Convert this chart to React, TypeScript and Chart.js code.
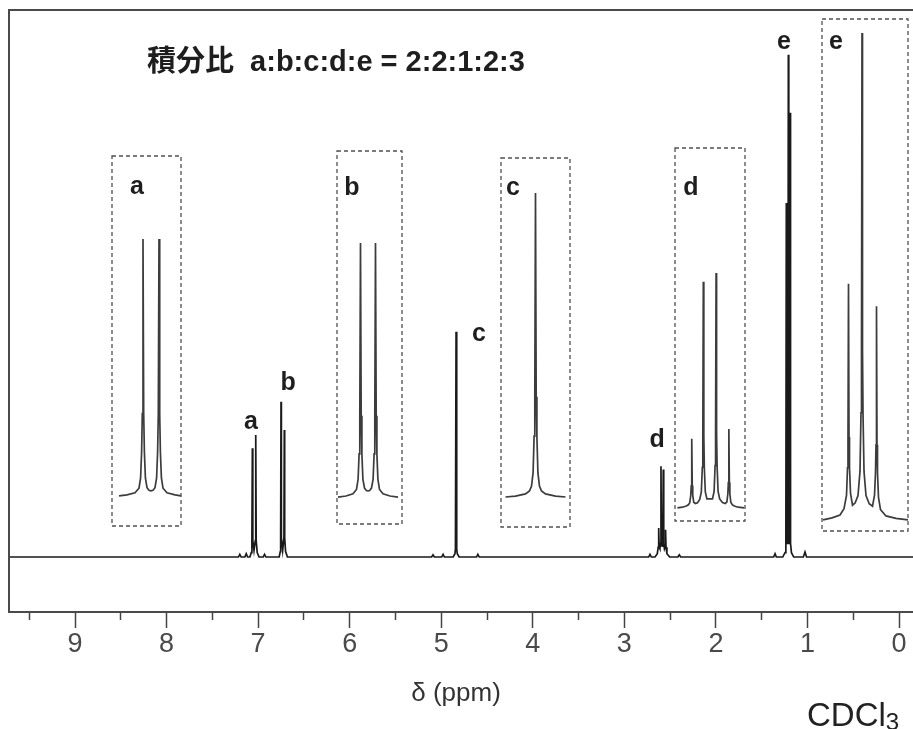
import React, { useEffect, useRef } from "react";
import { Chart, registerables } from "chart.js";

Chart.register(...registerables);

// ---------- axis ----------
const majorTicks = [0, 1, 2, 3, 4, 5, 6, 7, 8, 9];
const minorTicks = [0.5, 1.5, 2.5, 3.5, 4.5, 5.5, 6.5, 7.5, 8.5, 9.5];
const xLeftPpm = 9.721;
const xRightPpm = -0.666;
const yBottom = -10.05;
const yTop = 100;

// ---------- main spectrum (ppm, relative intensity) ----------
const specPpm = [
  9.8,
  7.215, 7.2, 7.185, 7.145, 7.13, 7.115,
  7.09, 7.075, 7.068, 7.063, 7.058, 7.045, 7.031, 7.026, 7.021, 7.01, 6.99,
  6.945, 6.93, 6.915,
  6.77, 6.758, 6.754, 6.75, 6.746, 6.732, 6.718, 6.714, 6.71, 6.7, 6.68,
  5.105, 5.09, 5.075, 4.995, 4.98, 4.965,
  4.87, 4.85, 4.845, 4.838, 4.831, 4.825, 4.805,
  4.615, 4.6, 4.585,
  2.735, 2.72, 2.705,
  2.665, 2.64, 2.63, 2.625, 2.62, 2.612, 2.605, 2.6, 2.595, 2.5875, 2.58, 2.575, 2.57, 2.562, 2.555, 2.55, 2.545, 2.535, 2.505,
  2.415, 2.4, 2.385,
  1.37, 1.354, 1.34,
  1.27, 1.245, 1.236, 1.231, 1.226, 1.22, 1.214, 1.209, 1.204, 1.198, 1.195, 1.19, 1.185, 1.175, 1.15,
  1.045, 1.027, 1.01,
  -0.8,
];
const specInt = [
  0,
  0, 0.5, 0, 0, 0.6, 0,
  0, 0.8, 3, 19.9, 3, 1.2, 3, 22.3, 3, 0.8, 0,
  0, 0.5, 0,
  0, 1, 3.5, 28.4, 3.5, 1.2, 3.5, 23.2, 3.5, 1, 0,
  0, 0.4, 0, 0, 0.5, 0,
  0, 0.6, 1.5, 41.2, 1.5, 0.6, 0,
  0, 0.5, 0,
  0, 0.5, 0,
  0, 0.6, 1.8, 5.3, 1.8, 1.5, 2.5, 16.6, 2.5, 2, 2.5, 16.0, 2.5, 1.5, 1.8, 5.0, 1.8, 0.6, 0,
  0, 0.4, 0,
  0, 0.6, 0,
  0, 0.8, 2.5, 64.7, 3, 2.5, 4, 91.8, 4, 2.5, 3, 81.2, 2.5, 0.8, 0,
  0, 0.9, 0,
  0,
];

// ---------- peak labels on the main spectrum ----------
const peakLabels = ["a", "b", "c", "d", "e"];
const peakLabelPpm = [7.077, 6.672, 4.587, 2.643, 1.256];
const peakLabelInt = [24.7, 31.8, 40.8, 21.4, 94.2];

// ---------- expansions (Hz offset from multiplet centre, % of tallest line) ----------
const insetAHz = [16, 12, 8, 6, 5.2, 4.7, 4.35, 4, 3.65, 3.3, 2.8, 2, 1, 0, -1, -2, -2.8, -3.3, -3.65, -4, -4.35, -4.7, -5.2, -6, -8, -12, -15];
const insetAInt = [0, 0.4, 1.2, 3, 7, 17, 32, 100, 32, 17, 7, 3.2, 2.2, 2, 2.2, 3.2, 7, 17, 32, 100, 32, 17, 7, 3, 1.2, 0.4, 0];

const insetBHz = [15, 11, 7.5, 5.75, 4.95, 4.45, 4.1, 3.75, 3.4, 3.05, 2.55, 1.75, 0.8, 0, -0.8, -1.75, -2.55, -3.05, -3.4, -3.75, -4.1, -4.45, -4.95, -5.75, -7.5, -11, -15];
const insetBInt = [0, 0.4, 1.3, 3, 7, 17, 32, 100, 32, 17, 7, 3.5, 2.6, 2.4, 2.6, 3.5, 7, 17, 32, 100, 32, 17, 7, 3, 1.3, 0.4, 0];

const insetCHz = [15, 10, 5, 3, 2, 1.2, 0.7, 0.35, 0, -0.35, -0.7, -1.2, -2, -3, -5, -10, -15];
const insetCInt = [0, 0.3, 1, 2, 3.5, 8, 20, 33, 100, 33, 20, 8, 3.5, 2, 1, 0.3, 0];

const insetDHz = [16.5, 14, 12, 11, 10.3, 9.8, 9.55, 9.3, 9.05, 8.8, 8.3, 7.5, 6.4, 5.3, 4.5, 4.0, 3.75, 3.5, 3.25, 3.0, 2.5, 1.7, 0.3, -1.1, -1.9, -2.4, -2.65, -2.9, -3.15, -3.4, -3.9, -4.7, -6.1, -7.5, -8.3, -8.8, -9.05, -9.3, -9.55, -9.8, -10.3, -11, -12, -14, -17];
const insetDInt = [0, 0.3, 0.8, 1.3, 2.2, 5.3, 9.4, 29.4, 9.4, 5.3, 2.4, 1.9, 2.2, 3.6, 6.8, 17.3, 31, 96.2, 31, 17.3, 6.8, 3.8, 3.8, 3.8, 7, 18, 32, 100, 32, 18, 7, 3.8, 2.3, 1.9, 2.5, 6, 10.8, 33.6, 10.8, 6, 2.4, 1.4, 0.8, 0.3, 0];

const insetEHz = [19.5, 15, 11, 9, 7.75, 7.25, 7.0, 6.75, 6.5, 6.25, 5.75, 4.75, 3.4, 2, 1, 0.5, 0.25, 0, -0.25, -0.5, -1, -2, -3.6, -5.25, -6.25, -6.75, -7.0, -7.25, -7.5, -7.75, -8.25, -9.25, -12, -17, -23];
const insetEInt = [0, 0.4, 1, 2.3, 5, 10.7, 17, 48.5, 17, 10.7, 5.5, 3, 3.5, 5, 10, 22, 35, 100, 35, 22, 10, 5, 3.3, 2.8, 5, 9.7, 15.4, 43.9, 15.4, 9.7, 4.6, 2.1, 0.8, 0.3, 0];

// ---------- texts ----------
const titleText = "積分比  a:b:c:d:e = 2:2:1:2:3";
const axisTitleText = "δ (ppm)";
const solventMain = "CDCl";
const solventSub = "3";

const LATIN = "'Liberation Sans', Arial, 'Noto Sans CJK JP', sans-serif";

function MainChart() {
  const ref = useRef<HTMLCanvasElement>(null);
  useEffect(() => {
    const canvas = ref.current!;
    const framePlugin = {
      id: "frame",
      afterDraw(chart: any) {
        const { ctx, chartArea } = chart;
        ctx.save();
        ctx.strokeStyle = "#4a4a4a";
        ctx.lineWidth = 2;
        ctx.beginPath();
        ctx.moveTo(chartArea.right + 5, chartArea.top);
        ctx.lineTo(chartArea.left, chartArea.top);
        ctx.lineTo(chartArea.left, chartArea.bottom);
        ctx.lineTo(chartArea.right + 5, chartArea.bottom);
        ctx.stroke();
        ctx.restore();
      },
    };
    const labelPlugin = {
      id: "peakLabels",
      afterDatasetsDraw(chart: any) {
        const { ctx } = chart;
        const xs = chart.scales.x;
        const ys = chart.scales.y;
        ctx.save();
        ctx.font = `bold 25px ${LATIN}`;
        ctx.fillStyle = "#1e1e1e";
        ctx.textAlign = "center";
        ctx.textBaseline = "middle";
        peakLabels.forEach((t, i) => {
          ctx.fillText(t, xs.getPixelForValue(peakLabelPpm[i]), ys.getPixelForValue(peakLabelInt[i]));
        });
        ctx.restore();
      },
    };
    const chart = new Chart(canvas, {
      type: "line",
      data: {
        datasets: [
          {
            data: specPpm.map((p, i) => ({ x: p, y: specInt[i] })),
            borderColor: "#1a1a1a",
            borderWidth: 1.7,
            pointRadius: 0,
            tension: 0,
            fill: false,
          },
        ],
      },
      options: {
        animation: false,
        responsive: false,
        devicePixelRatio: 1,
        events: [],
        layout: { padding: { left: 9, top: 10, right: 0, bottom: 0 } },
        plugins: { legend: { display: false }, tooltip: { enabled: false } },
        scales: {
          xMinor: {
            type: "linear",
            position: "bottom",
            reverse: true,
            min: xRightPpm,
            max: xLeftPpm,
            weight: 0,
            afterBuildTicks: (s: any) => {
              s.ticks = minorTicks.map((v) => ({ value: v }));
            },
            afterFit: (s: any) => {
              s.height = 0;
            },
            ticks: { display: false },
            grid: { drawOnChartArea: false, drawTicks: true, tickLength: 8, tickColor: "#444", tickWidth: 1.5 },
            border: { display: false },
          },
          x: {
            type: "linear",
            position: "bottom",
            reverse: true,
            min: xRightPpm,
            max: xLeftPpm,
            weight: 1,
            afterBuildTicks: (s: any) => {
              s.ticks = majorTicks.map((v) => ({ value: v }));
            },
            afterFit: (s: any) => {
              s.height = 117;
            },
            ticks: {
              padding: 0,
              color: "#4a4a4a",
              maxRotation: 0,
              autoSkip: false,
              font: { family: "'Liberation Sans Narrow', 'Liberation Sans', Arial, sans-serif", size: 27 },
              callback: (v: any) => String(v),
            },
            grid: { drawOnChartArea: false, drawTicks: true, tickLength: 16, tickColor: "#444", tickWidth: 1.5 },
            border: { display: false },
          },
          y: { display: false, min: yBottom, max: yTop },
        },
      } as any,
      plugins: [framePlugin, labelPlugin],
    });
    return () => chart.destroy();
  }, []);
  return <canvas ref={ref} width={960} height={729} style={{ position: "absolute", left: 0, top: 0 }} />;
}

type InsetProps = {
  left: number;
  top: number;
  width: number;
  height: number;
  hz: number[];
  ints: number[];
  xMin: number;
  xMax: number;
  yMin: number;
  yMax: number;
  label: string;
  labelX: number;
  labelY: number;
};

function Inset(p: InsetProps) {
  const ref = useRef<HTMLCanvasElement>(null);
  useEffect(() => {
    const canvas = ref.current!;
    const boxPlugin = {
      id: "box",
      afterDraw(chart: any) {
        const { ctx } = chart;
        ctx.save();
        ctx.strokeStyle = "#505050";
        ctx.lineWidth = 1.3;
        ctx.setLineDash([4, 3]);
        ctx.strokeRect(1, 1, p.width - 2, p.height - 2);
        ctx.setLineDash([]);
        ctx.font = `bold 25px ${LATIN}`;
        ctx.fillStyle = "#1e1e1e";
        ctx.textAlign = "center";
        ctx.textBaseline = "middle";
        ctx.fillText(p.label, p.labelX, p.labelY);
        ctx.restore();
      },
    };
    const chart = new Chart(canvas, {
      type: "line",
      data: {
        datasets: [
          {
            data: p.hz.map((h, i) => ({ x: h, y: p.ints[i] })),
            borderColor: "#3c3c3c",
            borderWidth: 1.7,
            pointRadius: 0,
            tension: 0,
            fill: false,
          },
        ],
      },
      options: {
        animation: false,
        responsive: false,
        devicePixelRatio: 1,
        events: [],
        layout: { padding: 0 },
        plugins: { legend: { display: false }, tooltip: { enabled: false } },
        scales: {
          x: { type: "linear", reverse: true, min: p.xMin, max: p.xMax, display: false },
          y: { min: p.yMin, max: p.yMax, display: false },
        },
      } as any,
      plugins: [boxPlugin],
    });
    return () => chart.destroy();
  }, []);
  return (
    <canvas
      ref={ref}
      width={p.width}
      height={p.height}
      style={{ position: "absolute", left: p.left, top: p.top }}
    />
  );
}

export default function App() {
  return (
    <div
      style={{
        position: "absolute",
        left: 0,
        top: 0,
        width: 913,
        height: 729,
        overflow: "hidden",
        background: "#fff",
      }}
    >
      <MainChart />
      <Inset left={111} top={155} width={71} height={372} hz={insetAHz} ints={insetAInt}
        xMin={-15.5} xMax={20} yMin={-12.1} yMax={132.7} label="a" labelX={26} labelY={32} />
      <Inset left={336} top={150} width={67} height={375} hz={insetBHz} ints={insetBInt}
        xMin={-17.5} xMax={16} yMin={-11} yMax={136.6} label="b" labelX={16} labelY={38} />
      <Inset left={500} top={157} width={71} height={371} hz={insetCHz} ints={insetCInt}
        xMin={-17.75} xMax={17.75} yMin={-10.2} yMax={111.8} label="c" labelX={13} labelY={31} />
      <Inset left={674} top={147} width={72} height={375} hz={insetDHz} ints={insetDInt}
        xMin={-17.9} xMax={18.2} yMin={-6} yMax={153.6} label="d" labelX={17} labelY={41} />
      <Inset left={821} top={18} width={88} height={514} hz={insetEHz} ints={insetEInt}
        xMin={-23.5} xMax={20.5} yMin={-2.5} yMax={103.1} label="e" labelX={15} labelY={24} />
      <div
        style={{
          position: "absolute",
          left: 147,
          top: 47,
          font: `bold 29px ${LATIN}`,
          lineHeight: "29px",
          whiteSpace: "pre",
          color: "#1e1e1e",
        }}
      >
        {titleText}
      </div>
      <div
        style={{
          position: "absolute",
          left: 356,
          width: 200,
          top: 679,
          textAlign: "center",
          font: `26px 'Liberation Sans Narrow', 'Liberation Sans', Arial, sans-serif`,
          lineHeight: "27px",
          color: "#333",
        }}
      >
        {axisTitleText}
      </div>
      <div
        style={{
          position: "absolute",
          left: 807,
          top: 698,
          font: `33px ${LATIN}`,
          lineHeight: "33px",
          color: "#222",
          whiteSpace: "pre",
        }}
      >
        {solventMain}
        <span style={{ fontSize: 24, verticalAlign: "-4px" }}>{solventSub}</span>
      </div>
    </div>
  );
}
